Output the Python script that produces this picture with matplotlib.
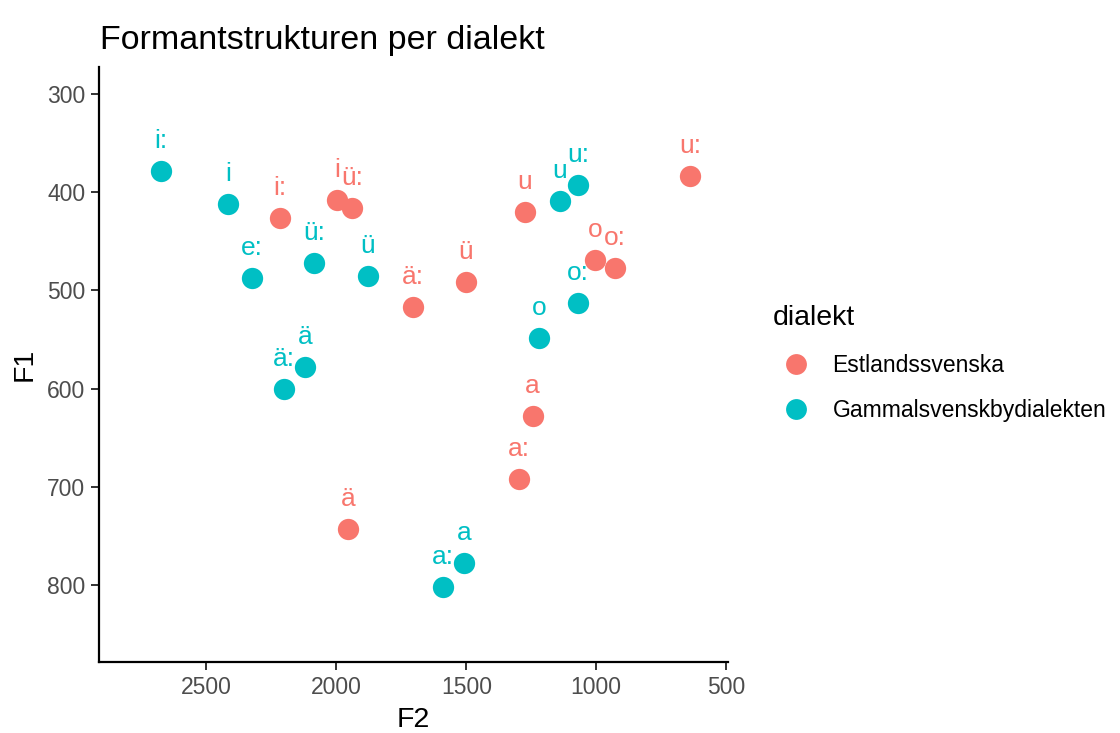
import matplotlib
matplotlib.use('Agg')
import matplotlib.pyplot as plt
from matplotlib.lines import Line2D

# vokaler och formanter (F2, F1) per dialekt
est_vokal = ['i:', 'i', 'ü:', 'ä:', 'ü', 'u', 'o', 'o:', 'u:', 'a', 'a:', 'ä']
est_f2 = [2216, 1997, 1940, 1706, 1502, 1276, 1004, 927, 638, 1245, 1298, 1955]
est_f1 = [426, 408, 416, 517, 492, 420, 469, 477, 384, 628, 692, 743]

gam_vokal = ['i:', 'i', 'e:', 'ü:', 'ü', 'u', 'u:', 'o:', 'o', 'ä', 'ä:', 'a', 'a:']
gam_f2 = [2674, 2418, 2325, 2085, 1879, 1139, 1070, 1070, 1219, 2119, 2202, 1507, 1590]
gam_f1 = [379, 412, 488, 472, 486, 409, 393, 513, 549, 578, 601, 778, 802]

dialekter = ['Estlandssvenska', 'Gammalsvenskbydialekten']
farger = ['#F8766D', '#00BFC4']

plt.rcParams['font.family'] = ['Liberation Sans', 'DejaVu Sans']

fig = plt.figure(figsize=(11.2, 7.33), dpi=100)
ax = fig.add_axes([0.0887, 0.0973, 0.5613, 0.8117])

serier = [(est_vokal, est_f2, est_f1), (gam_vokal, gam_f2, gam_f1)]
for (vok, f2, f1), col in zip(serier, farger):
    ax.scatter(f2, f1, s=235, color=col, zorder=3, linewidths=0)
    for v, x, y in zip(vok, f2, f1):
        ax.annotate(v, (x, y), xytext=(0, 30), textcoords='offset pixels',
                    ha='center', va='center', fontsize=19, color=col, zorder=4)

ax.set_xlim(2912, 493)
ax.set_ylim(878, 272.5)
ax.set_xticks([2500, 2000, 1500, 1000, 500])
ax.set_yticks([300, 400, 500, 600, 700, 800])

for s in ['top', 'right']:
    ax.spines[s].set_visible(False)
for s in ['left', 'bottom']:
    ax.spines[s].set_linewidth(1.6)
    ax.spines[s].set_color('black')
ax.tick_params(length=6, width=1.4, color='#333333', labelcolor='#4D4D4D',
               labelsize=16.5, pad=4)

ax.set_xlabel('F2', fontsize=20.5, labelpad=6)
ax.set_ylabel('F1', fontsize=20.5, labelpad=7)
fig.text(0.0893, 0.945, 'Formantstrukturen per dialekt', fontsize=24.5,
         ha='left', va='center')

handles = [Line2D([], [], marker='o', linestyle='', markersize=15,
                  markerfacecolor=c, markeredgewidth=0) for c in farger]
leg = fig.legend(handles, dialekter, title='dialekt', loc='center left',
                 bbox_to_anchor=(0.682, 0.504), frameon=False, fontsize=16.5,
                 title_fontsize=20.5, handletextpad=0.6, labelspacing=1.0,
                 borderaxespad=0)
leg._legend_box.align = 'left'

fig.savefig('out.png', dpi=100)
